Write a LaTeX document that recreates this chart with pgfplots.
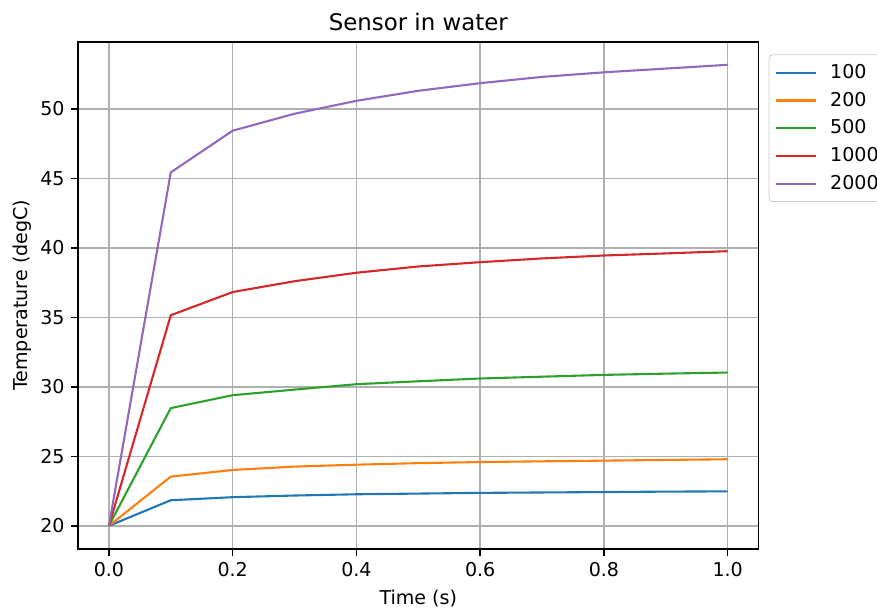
\documentclass[border=0pt]{standalone}
\usepackage{fontspec}
\setmainfont{DejaVu Sans}
\usepackage{pgfplots}
\pgfplotsset{compat=1.18}

\definecolor{c100}{HTML}{1F77B4}
\definecolor{c200}{HTML}{FF7F0E}
\definecolor{c500}{HTML}{2CA02C}
\definecolor{c1000}{HTML}{D62728}
\definecolor{c2000}{HTML}{9467BD}
\definecolor{gridgray}{HTML}{B0B0B0}

\begin{document}
\begin{tikzpicture}
\useasboundingbox (-40.9pt,-30.9pt) rectangle (419.1pt,287.9pt);
\begin{axis}[
    scale only axis,
    width=357pt, height=266pt,
    xmin=-0.05, xmax=1.05,
    ymin=18.34, ymax=54.83,
    xtick={0,0.2,0.4,0.6,0.8,1.0},
    ytick={20,25,30,35,40,45,50},
    xtick pos=bottom, ytick pos=left,
    xticklabel style={/pgf/number format/.cd, fixed, fixed zerofill, precision=1},
    /pgf/number format/assume math mode=true,
    tick align=outside,
    major tick length=3.5pt,
    tick style={black, line width=0.8pt},
    axis line style={line width=0.8pt},
    grid=major,
    major grid style={gridgray, line width=0.8pt},
    font=\fontsize{10}{12}\selectfont,
    title={\fontsize{12}{14}\selectfont Sensor in water},
    title style={yshift=-4pt},
    xlabel={Time (s)},
    ylabel={Temperature (degC)},
    ylabel style={yshift=-2pt},
    legend style={at={(1.0147,0.975)}, anchor=north west, draw=black!20, rounded corners=2pt,
        fill=white, font=\fontsize{10}{12}\selectfont, row sep=1.6pt,
        inner xsep=3pt, inner ysep=3pt,
        nodes={inner xsep=7pt}},
    legend cell align=left,
    legend image code/.code={\draw[#1, line width=1.1pt] (0pt,0pt) -- (21pt,0pt);},
    every axis plot/.append style={line width=1.1pt, line join=round},
]
\addplot[c100] coordinates {
    (0,20) (0.1,21.84) (0.2,22.06) (0.3,22.18) (0.4,22.27) (0.5,22.32)
    (0.6,22.37) (0.7,22.40) (0.8,22.43) (0.9,22.46) (1.0,22.48)};
\addlegendentry{100}
\addplot[c200] coordinates {
    (0,20) (0.1,23.54) (0.2,24.02) (0.3,24.26) (0.4,24.40) (0.5,24.51)
    (0.6,24.59) (0.7,24.64) (0.8,24.69) (0.9,24.74) (1.0,24.79)};
\addlegendentry{200}
\addplot[c500] coordinates {
    (0,20) (0.1,28.47) (0.2,29.40) (0.3,29.80) (0.4,30.19) (0.5,30.40)
    (0.6,30.60) (0.7,30.73) (0.8,30.86) (0.9,30.95) (1.0,31.03)};
\addlegendentry{500}
\addplot[c1000] coordinates {
    (0,20) (0.1,35.15) (0.2,36.82) (0.3,37.60) (0.4,38.21) (0.5,38.66)
    (0.6,38.97) (0.7,39.24) (0.8,39.45) (0.9,39.60) (1.0,39.76)};
\addlegendentry{1000}
\addplot[c2000] coordinates {
    (0,20) (0.1,45.43) (0.2,48.43) (0.3,49.65) (0.4,50.58) (0.5,51.30)
    (0.6,51.85) (0.7,52.30) (0.8,52.63) (0.9,52.90) (1.0,53.17)};
\addlegendentry{2000}
\end{axis}
\end{tikzpicture}
\end{document}
